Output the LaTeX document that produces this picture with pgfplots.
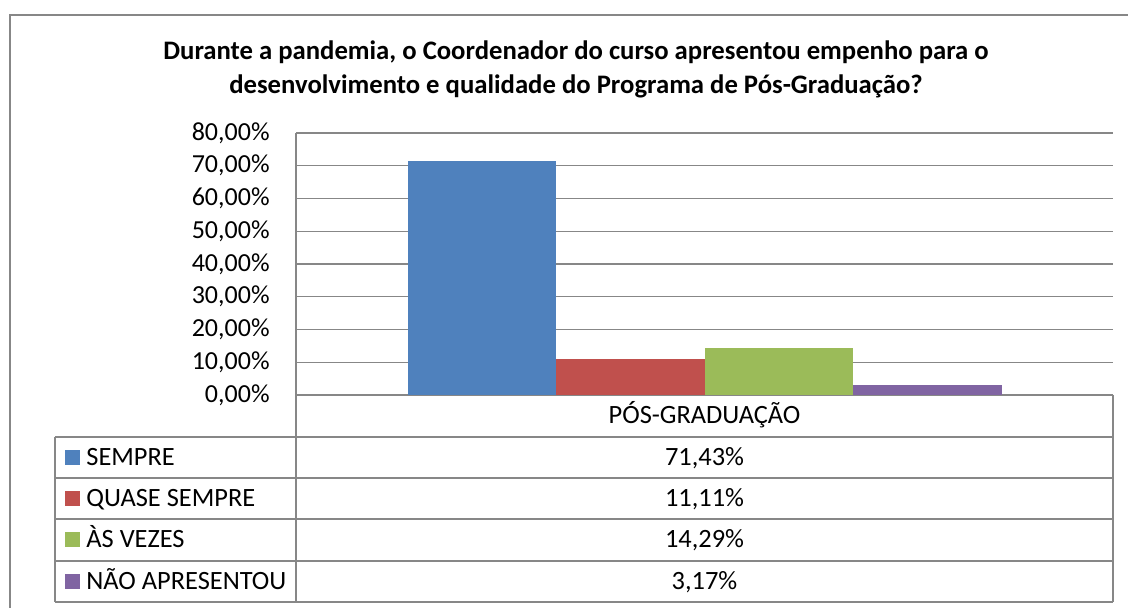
\documentclass[border=0pt]{standalone}
\usepackage{fontspec}
\setmainfont{Carlito}
\usepackage{pgfplots}
\pgfplotsset{compat=1.18}
\definecolor{c1}{HTML}{4F81BD}
\definecolor{c2}{HTML}{C0504D}
\definecolor{c3}{HTML}{9BBB59}
\definecolor{c4}{HTML}{8064A2}
\definecolor{gridc}{HTML}{878787}
\newcommand{\tfont}{\fontsize{13}{15}\selectfont}
\newcommand{\rfont}{\fontsize{13.2}{15}\selectfont}
\newcommand{\ttlfont}{\fontsize{13.35}{17}\selectfont\bfseries}
\begin{document}
\begin{tikzpicture}
\begin{scope}[x=0.5pt,y=-0.5pt,yshift=304pt]
\path[use as bounding box] (0,0) rectangle (1128,608);
% outer border
\draw[gridc, line width=0.65pt] (10,608) -- (10,15) -- (1128,15);
% title
\node[font=\ttlfont, align=center, inner sep=0pt, anchor=base] at (576,60) {Durante a pandemia, o Coordenador do curso apresentou empenho para o};
\node[font=\ttlfont, align=center, inner sep=0pt, anchor=base] at (576,94) {desenvolvimento e qualidade do Programa de Pós-Graduação?};
% data table lines
\draw[gridc, line width=0.65pt] (296,133) -- (296,602);
\draw[gridc, line width=0.65pt] (1113,395) -- (1113,602);
\draw[gridc, line width=0.65pt] (55,437) -- (55,602);
\foreach \yy in {437,478,519,561,602} {\draw[gridc, line width=0.65pt] (55,\yy) -- (1113,\yy);}
% header
\node[font=\rfont, inner sep=0pt, anchor=base] at (704.5,424) {PÓS-GRADUAÇÃO};
% rows
\fill[c1] (65,450) rectangle (80,465);
\node[font=\rfont, inner sep=0pt, anchor=base west] at (86,465.5) {SEMPRE};
\node[font=\rfont, inner sep=0pt, anchor=base] at (704.5,465.5) {71,43\%};
\fill[c2] (65,491) rectangle (80,506);
\node[font=\rfont, inner sep=0pt, anchor=base west] at (86,506.5) {QUASE SEMPRE};
\node[font=\rfont, inner sep=0pt, anchor=base] at (704.5,506.5) {11,11\%};
\fill[c3] (65,532) rectangle (80,547);
\node[font=\rfont, inner sep=0pt, anchor=base west] at (86,548) {ÀS VEZES};
\node[font=\rfont, inner sep=0pt, anchor=base] at (704.5,548) {14,29\%};
\fill[c4] (65,574) rectangle (80,589);
\node[font=\rfont, inner sep=0pt, anchor=base west] at (86,589.5) {NÃO APRESENTOU};
\node[font=\rfont, inner sep=0pt, anchor=base] at (704.5,589.5) {3,17\%};
\end{scope}
\begin{axis}[
  at={(148pt,106.5pt)}, anchor=south west,
  scale only axis, width=408.5pt, height=131pt,
  xmin=0, xmax=1, ymin=0, ymax=80,
  ybar=0pt, bar width=74.25pt,
  xtick=\empty,
  ytick={0,10,20,30,40,50,60,70,80},
  yticklabels={{0,00\%},{10,00\%},{20,00\%},{30,00\%},{40,00\%},{50,00\%},{60,00\%},{70,00\%},{80,00\%}},
  yticklabel style={font=\tfont, inner sep=0pt, anchor=east, xshift=-13pt},
  major tick length=0pt,
  ymajorgrids, grid style={gridc, line width=0.65pt},
  axis line style={draw=none},
  clip=false,
]
\addplot[fill=c1, draw=none] coordinates {(0.5,71.43)};
\addplot[fill=c2, draw=none] coordinates {(0.5,11.11)};
\addplot[fill=c3, draw=none] coordinates {(0.5,14.29)};
\addplot[fill=c4, draw=none] coordinates {(0.5,3.17)};
\end{axis}
\end{tikzpicture}
\end{document}
